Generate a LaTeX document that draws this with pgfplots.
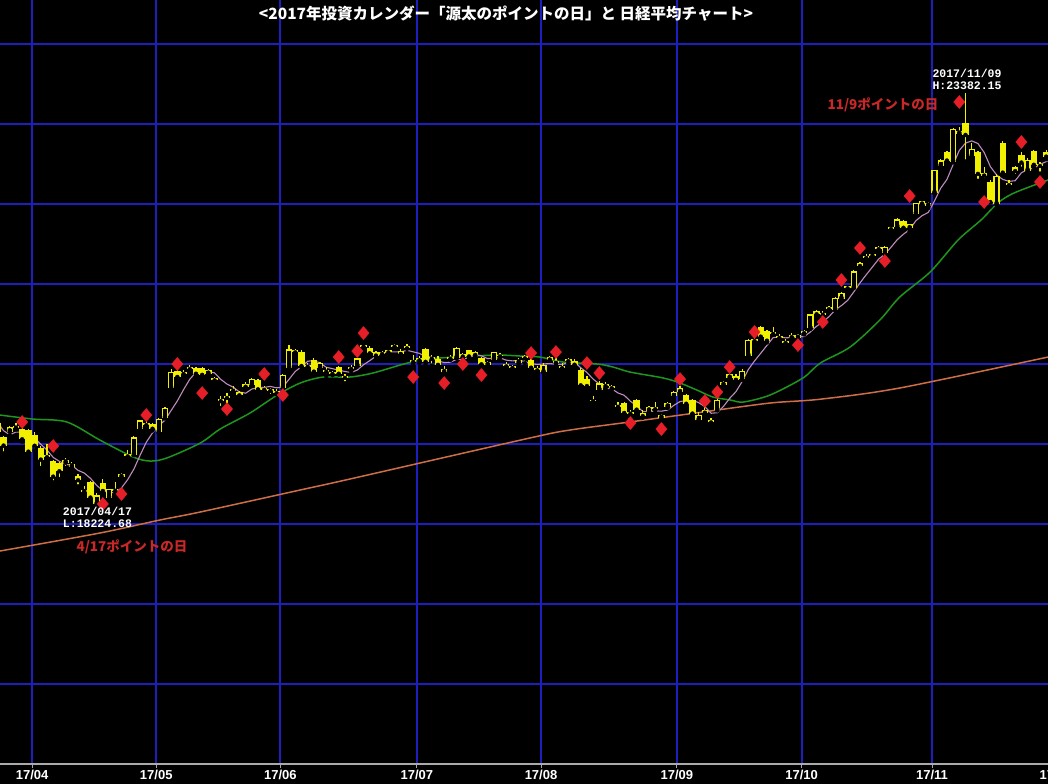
\documentclass[border=0pt]{standalone}
\usepackage{pgfplots}
\usepackage{pgfplotstable}
\pgfplotsset{compat=1.18}
\usepackage{fontspec}
\setmainfont{Liberation Sans}
\newfontfamily\jpfont{Noto Sans CJK JP}
\newfontfamily\pixfont{Liberation Mono}

\definecolor{gridblue}{RGB}{30,30,190}
\definecolor{candle}{RGB}{240,240,0}
\definecolor{ptred}{RGB}{230,30,40}
\definecolor{txtred}{RGB}{200,40,40}
\definecolor{mauve}{RGB}{190,140,190}
\definecolor{magreen}{RGB}{30,150,30}
\definecolor{maorange}{RGB}{205,110,70}
\definecolor{axisgray}{RGB}{170,170,170}

\pgfplotstableread{
i o h l c
-6 19150 19300 19120 19262
-5 19080 19100 18880 18985
-4 19160 19230 19110 19203
-3 19210 19260 19180 19217
-2 19180 19200 19030 19063
-1 19170 19190 18880 18909
0 19110 19150 18920 18983
1 18950 18980 18700 18810
2 18840 19000 18810 18861
3 18780 18800 18520 18597
4 18760 18780 18560 18664
5 18770 18830 18700 18797
6 18720 18780 18690 18747
7 18590 18620 18470 18552
8 18400 18470 18380 18426
9 18520 18540 18300 18335
10 18250 18385 18225 18355
11 18510 18560 18370 18418
12 18330 18440 18310 18432
13 18420 18520 18400 18430
14 18590 18640 18570 18620
15 18850 18920 18820 18875
16 18870 19100 18860 19079
17 19190 19300 19170 19289
18 19240 19290 19200 19251
19 19240 19260 19170 19196
20 19150 19330 19130 19310
21 19330 19460 19320 19445
22 19700 19940 19680 19895
23 19910 19920 19800 19843
24 19880 19930 19860 19900
25 19940 19990 19920 19961
26 19950 19960 19850 19883
27 19950 19960 19830 19869
28 19880 19940 19870 19919
29 19800 19840 19780 19814
30 19540 19600 19450 19553
31 19580 19640 19480 19590
32 19670 19720 19650 19678
33 19640 19660 19600 19613
34 19720 19770 19700 19742
35 19740 19830 19730 19813
36 19800 19810 19680 19686
37 19690 19730 19640 19682
38 19670 19700 19600 19677
39 19640 19690 19620 19650
40 19700 19870 19690 19860
41 19960 20240 19950 20177
42 20150 20190 20120 20170
43 20150 20180 19960 19979
44 19970 20010 19940 19984
45 20050 20070 19900 19909
46 19960 20030 19940 20013
47 19920 19960 19850 19908
48 19880 19910 19860 19898
49 19960 19980 19870 19883
50 19850 19880 19760 19831
51 19960 19990 19910 19943
52 19980 20080 19970 20067
53 20220 20240 20200 20230
54 20200 20230 20120 20138
55 20150 20160 20090 20110
56 20130 20160 20100 20132
57 20150 20180 20120 20153
58 20220 20250 20200 20225
59 20160 20190 20120 20130
60 20200 20250 20190 20220
61 20030 20110 20000 20033
62 20050 20100 20010 20055
63 20180 20200 20000 20032
64 20070 20110 19980 20081
65 20060 20100 19980 19994
66 19900 19970 19880 19929
67 20070 20110 20050 20080
68 20080 20210 20070 20195
69 20120 20140 20070 20098
70 20170 20180 20070 20099
71 20140 20160 20100 20118
72 20070 20090 19990 20000
73 19990 20040 19960 20020
74 20060 20150 20040 20144
75 20110 20140 20080 20099
76 19990 20030 19950 19975
77 19970 19990 19930 19955
78 20020 20080 20000 20050
79 20075 20110 20010 20079
80 20050 20070 19940 19959
81 19940 19980 19900 19925
82 19900 20010 19890 19985
83 20060 20100 20040 20080
84 20020 20080 20000 20029
85 19970 20010 19940 19952
86 20040 20070 20010 20055
87 20030 20060 19980 19996
88 19925 19950 19700 19738
89 19810 19850 19690 19729
90 19550 19600 19500 19537
91 19680 19790 19660 19753
92 19730 19770 19700 19729
93 19710 19740 19680 19702
94 19480 19520 19440 19470
95 19510 19530 19370 19393
96 19400 19430 19340 19383
97 19550 19560 19410 19434
98 19380 19420 19330 19353
99 19420 19470 19400 19452
100 19440 19520 19420 19449
101 19330 19370 19280 19362
102 19470 19530 19450 19506
103 19600 19660 19580 19646
104 19650 19720 19630 19691
105 19610 19630 19480 19508
106 19550 19560 19370 19385
107 19300 19400 19270 19357
108 19420 19460 19380 19396
109 19300 19330 19240 19274
110 19430 19580 19420 19545
111 19740 19790 19720 19776
112 19830 19880 19800 19865
113 19850 19870 19790 19807
114 19820 19940 19800 19909
115 20110 20310 20100 20299
116 20290 20340 20260 20310
117 20460 20480 20330 20347
118 20410 20420 20270 20296
119 20380 20460 20370 20397
120 20330 20370 20300 20330
121 20270 20310 20240 20267
122 20340 20390 20320 20363
123 20330 20370 20300 20356
124 20390 20430 20370 20400
125 20450 20630 20440 20614
126 20660 20680 20600 20626
127 20620 20660 20590 20628
128 20710 20720 20660 20690
129 20680 20840 20670 20823
130 20820 20900 20800 20881
131 20950 20980 20930 20954
132 20960 21170 20950 21155
133 21230 21270 21200 21255
134 21330 21380 21300 21336
135 21360 21380 21320 21363
136 21440 21470 21410 21448
137 21390 21480 21370 21457
138 21690 21710 21650 21696
139 21720 21820 21700 21805
140 21780 21800 21690 21707
141 21700 21740 21660 21739
142 21880 22010 21870 22008
143 22030 22040 21960 22011
144 21980 22020 21950 22011
145 22140 22430 22130 22420
146 22480 22560 22460 22539
147 22640 22660 22520 22548
148 22530 22950 22520 22937
149 22880 22960 22850 22913
150 23010 23382 22530 22868
151 22600 22760 22560 22681
152 22640 22660 22290 22381
153 22360 22460 22300 22380
154 22270 22300 21970 22028
155 22000 22380 21990 22351
156 22760 22790 22380 22397
157 22240 22300 22200 22261
158 22460 22480 22350 22416
159 22610 22650 22440 22523
160 22420 22580 22400 22550
161 22660 22680 22460 22495
162 22480 22520 22380 22486
163 22650 22680 22560 22597
164 22650 22740 22630 22724
}\ohlc

\pgfplotstableread{
i v
-6 19273
-5 19166
-4 19115
-3 19150
-2 19146
-1 19075
0 19075
1 18996
2 18925
3 18832
4 18783
5 18746
6 18733
7 18671
8 18637
9 18571
10 18483
11 18417
12 18393
13 18394
14 18451
15 18555
16 18687
17 18859
18 19023
19 19138
20 19225
21 19298
22 19419
23 19538
24 19679
25 19809
26 19896
27 19891
28 19906
29 19889
30 19808
31 19749
32 19711
33 19650
34 19635
35 19687
36 19706
37 19707
38 19720
39 19702
40 19711
41 19809
42 19907
43 19967
44 20034
45 20044
46 20011
47 19959
48 19942
49 19922
50 19907
51 19893
52 19924
53 19991
54 20042
55 20098
56 20135
57 20153
58 20152
59 20150
60 20172
61 20152
62 20133
63 20094
64 20084
65 20039
66 20018
67 20023
68 20056
69 20059
70 20080
71 20118
72 20102
73 20067
74 20076
75 20076
76 20048
77 20039
78 20045
79 20032
80 20004
81 19994
82 20000
83 20006
84 19996
85 19994
86 20020
87 20022
88 19954
89 19894
90 19811
91 19751
92 19697
93 19690
94 19638
95 19609
96 19535
97 19476
98 19407
99 19403
100 19414
101 19410
102 19424
103 19483
104 19531
105 19543
106 19547
107 19517
108 19467
109 19384
110 19391
111 19470
112 19571
113 19653
114 19780
115 19931
116 20038
117 20134
118 20232
119 20330
120 20336
121 20327
122 20331
123 20343
124 20343
125 20400
126 20472
127 20525
128 20592
129 20676
130 20730
131 20795
132 20901
133 21014
134 21116
135 21213
136 21311
137 21372
138 21460
139 21554
140 21623
141 21681
142 21791
143 21854
144 21895
145 22038
146 22198
147 22306
148 22491
149 22671
150 22761
151 22789
152 22756
153 22645
154 22468
155 22364
156 22307
157 22283
158 22291
159 22390
160 22429
161 22449
162 22494
163 22530
164 22570
}\maA

\pgfplotstableread{
i v
-5.6 19362
-0.3 19312
5.2 19275
10.5 19050
15.9 18837
18.6 18787
21.3 18825
26.7 19012
29.9 19187
34.7 19387
39.1 19612
42.8 19762
46.5 19837
50.8 19837
54.5 19887
58.9 19987
62.1 20050
65.3 20075
70.6 20100
74.9 20112
78.2 20100
81.4 20087
85.1 20025
90.6 20000
93.2 19962
95.9 19900
101.3 19825
104.0 19762
106.7 19675
109.3 19587
112.1 19550
114.2 19525
118.5 19612
123.8 19825
126.6 20012
131.4 20212
136.2 20550
139.4 20837
144.3 21150
148.8 21550
152.5 21800
155.2 22012
157.8 22137
163.3 22300
}\maB

\pgfplotstableread{
i v
-5.6 17662
10.5 17887
20.2 18050
26.7 18150
42.8 18425
50.8 18562
79.8 19075
86.3 19175
95.9 19275
107.7 19400
118.5 19512
126.6 19560
139.4 19700
163.3 20087
}\maC

\pgfplotstableread{
i v
-2 19275
3 18975
11 18250
14 18375
18 19362
23 20000
27 19637
31 19437
37 19875
40 19612
49 20087
52 20162
53 20387
61 19837
66 19762
69 20000
72 19862
80 20137
84 20150
89 20012
91 19887
96 19262
101 19187
104 19812
108 19537
110 19650
112 19962
116 20400
123 20237
127 20525
130 21050
133 21450
137 21287
141 22100
149 23275
153 22025
159 22775
162 22275
}\points

\begin{document}
\begin{tikzpicture}
\useasboundingbox (0,-20bp) rectangle (1048bp,764bp);
\fill[black] (0,-20bp) rectangle (1048bp,764bp);
\begin{axis}[
  at={(0,0)}, anchor=south west,
  scale only axis, width=1048bp, height=764bp,
  xmin=-5.575, xmax=163.29, ymin=15000, ymax=24550,
  axis line style={draw=none},
  xtick={-0.4,19.6,39.6,61.6,81.6,103.5,123.6,144.6},
  xticklabels={17/04,17/05,17/06,17/07,17/08,17/09,17/10,17/11},
  xtick pos=bottom,
  ytick=\empty,
  xtick style={draw=axisgray, line width=1bp},
  major tick length=4bp, tick align=outside,
  xticklabel style={text=white, font=\bfseries\fontsize{13bp}{14bp}\selectfont, inner sep=0pt, yshift=-2bp},
  clip=true,
]
\pgfplotsinvokeforeach{-0.4,19.6,39.6,61.6,81.6,103.5,123.6,144.6}{
  \draw[gridblue, line width=1.8bp] (axis cs:#1,15000) -- (axis cs:#1,24550);
}
\pgfplotsinvokeforeach{16000,17000,18000,19000,20000,21000,22000,23000,24000}{
  \draw[gridblue, line width=1.8bp] (axis cs:-6,#1) -- (axis cs:165,#1);
}
\addplot[maorange, line width=1.5bp, smooth] table[x=i, y=v] {\maC};
\addplot[magreen, line width=1.5bp, smooth] table[x=i, y=v] {\maB};
\addplot[mauve, line width=1.1bp] table[x=i, y=v] {\maA};
% wicks
\addplot[only marks, mark=none, forget plot,
  error bars/.cd, y dir=plus, y explicit, error mark=none,
  error bar style={draw=candle, solid, line width=1.2bp}]
  table[x=i, y=l, y error plus expr=\thisrow{h}-\thisrow{l}] {\ohlc};
% bodies
\addplot[only marks, mark=none, forget plot,
  error bars/.cd, y dir=plus, y explicit, error mark=none,
  error bar style={draw=candle, solid, line width=6.4bp}]
  table[x=i, y expr={min(\thisrow{o},\thisrow{c})-5}, y error plus expr={max(abs(\thisrow{c}-\thisrow{o}),14)+10}] {\ohlc};
% hollow interior of rising candles
\addplot[only marks, mark=none, forget plot,
  restrict expr to domain={\thisrow{c}-\thisrow{o}}{26:100000},
  error bars/.cd, y dir=plus, y explicit, error mark=none,
  error bar style={draw=black, solid, line width=3.8bp}]
  table[x=i, y expr={\thisrow{o}+12}, y error plus expr={\thisrow{c}-\thisrow{o}-24}] {\ohlc};
\addplot[only marks, mark=diamond*, mark size=6.5bp, mark options={draw=ptred, fill=ptred, xscale=1.15}] table[x=i, y=v] {\points};
\end{axis}
\draw[axisgray, line width=2bp] (0,0) -- (1048bp,0);
\draw[axisgray, line width=1bp] (1056bp,0) -- (1056bp,-4bp);
\node[text=white, font=\bfseries\fontsize{13bp}{14bp}\selectfont, inner sep=0pt, anchor=north] at (1056bp,-6bp) {17/12};
\node[text=white, font=\jpfont\bfseries\fontsize{15.5bp}{16bp}\selectfont] at (506bp,750bp) {<2017年投資カレンダー「源太のポイントの日」と 日経平均チャート>};
\node[text=white, font=\pixfont\bfseries\fontsize{11.5bp}{12bp}\selectfont, align=center, inner sep=0pt] at (97.5bp,246.5bp) {2017/04/17\\L:18224.68};
\node[text=white, font=\pixfont\bfseries\fontsize{11.5bp}{12bp}\selectfont, align=center, inner sep=0pt] at (967bp,685bp) {2017/11/09\\H:23382.15};
\node[text=txtred, font=\jpfont\bfseries\fontsize{13.5bp}{14bp}\selectfont, inner sep=0pt] at (132bp,217.5bp) {4/17ポイントの日};
\node[text=txtred, font=\jpfont\bfseries\fontsize{13.5bp}{14bp}\selectfont, inner sep=0pt] at (883bp,659bp) {11/9ポイントの日};
\end{tikzpicture}
\end{document}
